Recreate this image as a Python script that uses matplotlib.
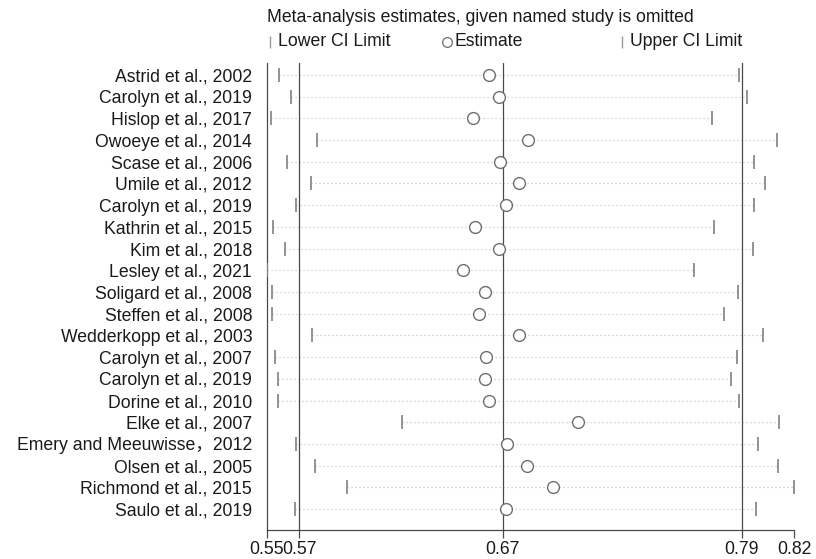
import numpy as np
import matplotlib
matplotlib.use('Agg')
import matplotlib.pyplot as plt
from matplotlib.lines import Line2D

plt.rcParams['font.family'] = ['Liberation Sans', 'Noto Sans CJK SC']

# ================================
# DATA
# ================================

studies = [
    "Astrid et al., 2002",
    "Carolyn et al., 2019",
    "Hislop et al., 2017",
    "Owoeye et al., 2014",
    "Scase et al., 2006",
    "Umile et al., 2012",
    "Carolyn et al., 2019",
    "Kathrin et al., 2015",
    "Kim et al., 2018",
    "Lesley et al., 2021",
    "Soligard et al., 2008",
    "Steffen et al., 2008",
    "Wedderkopp et al., 2003",
    "Carolyn et al., 2007",
    "Carolyn et al., 2019",
    "Dorine et al., 2010",
    "Elke et al., 2007",
    "Emery and Meeuwisse\uff0c2012",
    "Olsen et al., 2005",
    "Richmond et al., 2015",
    "Saulo et al., 2019",
]

lower = [0.5574, 0.5632, 0.5530, 0.5769, 0.5615, 0.5736, 0.5658, 0.5543,
         0.5605, 0.5510, 0.5538, 0.5538, 0.5743, 0.5554, 0.5567, 0.5569,
         0.6201, 0.5658, 0.5758, 0.5921, 0.5654]

estimate = [0.6650, 0.6701, 0.6564, 0.6846, 0.6706, 0.6802, 0.6735, 0.6578,
            0.6698, 0.6513, 0.6626, 0.6597, 0.6800, 0.6631, 0.6629, 0.6648,
            0.7102, 0.6742, 0.6843, 0.6974, 0.6734]

upper = [0.7928, 0.7968, 0.7790, 0.8121, 0.8007, 0.8063, 0.8005, 0.7799,
         0.7998, 0.7698, 0.7922, 0.7850, 0.8051, 0.7916, 0.7887, 0.7928,
         0.8135, 0.8024, 0.8126, 0.8210, 0.8014]

# pooled estimate with all studies
pooled_lower = 0.5676
pooled_est = 0.6718
pooled_upper = 0.7942

# ================================
# PLOT
# ================================

W, H = 816, 559
fig = plt.figure(figsize=(W / 100, H / 100), dpi=100)
ax = fig.add_axes([266.8 / W, 1 - 529.5 / H, (794 - 266.8) / W, (529.5 - 63) / H])

y = np.arange(1, len(studies) + 1)
lo = np.array(lower)
est = np.array(estimate)
hi = np.array(upper)

# dotted CI spans
for yi, a, b in zip(y, lo, hi):
    ax.plot([a, b], [yi, yi], color='#c4c4c4', lw=0.9,
            linestyle=(0, (1, 2.2)), zorder=1)

ax.plot(lo, y, linestyle='none', marker='|', ms=9.5, mew=1.3,
        color='#8a8a8a', zorder=3)
ax.plot(hi, y, linestyle='none', marker='|', ms=9.5, mew=1.3,
        color='#8a8a8a', zorder=3)
ax.plot(est, y, linestyle='none', marker='o', ms=8.5, mfc='white',
        mec='#6e6e6e', mew=1.0, zorder=4)

for v in (pooled_lower, pooled_est, pooled_upper):
    ax.axvline(v, color='#4a4a4a', lw=0.9, zorder=2)

xmin = lo.min()
xmax = hi.max()
ax.set_xlim(xmin, xmax)
ax.set_ylim(21.94, 0.45)

xt = [xmin, pooled_lower, pooled_est, pooled_upper, xmax]
ax.set_xticks(xt)
ax.set_xticklabels([f"{v:.2f}" for v in xt])
ax.set_yticks(y)
ax.set_yticklabels(studies)

ax.tick_params(axis='y', length=0, pad=10.5, labelsize=12.7, colors='#1a1a1a')
ax.tick_params(axis='x', length=6, width=0.9, color='#4a4a4a', pad=2,
               labelsize=12.7, labelcolor='#1a1a1a')

for s in ('top', 'right'):
    ax.spines[s].set_visible(False)
for s in ('left', 'bottom'):
    ax.spines[s].set_color('#4a4a4a')
    ax.spines[s].set_linewidth(0.9)

# ================================
# LEGEND (drawn by hand)
# ================================

fig.text(267 / W, 1 - 17 / H, "Meta-analysis estimates, given named study is omitted",
         fontsize=12.7, va='center', ha='left', color='#1a1a1a')

ly = 1 - 42 / H
items = [(270, '|', "Lower CI Limit"), (447, 'o', "Estimate"), (622, '|', "Upper CI Limit")]
for px, mk, txt in items:
    if mk == 'o':
        fig.add_artist(Line2D([px / W], [ly], marker='o', ms=7, mfc='white',
                              mec='#6e6e6e', mew=0.9, transform=fig.transFigure))
    else:
        fig.add_artist(Line2D([px / W], [ly], marker='|', ms=9, mew=1.0,
                              color='#9a9a9a', transform=fig.transFigure))
    fig.text((px + 8) / W, ly, txt, fontsize=12.7, va='center', ha='left',
             color='#1a1a1a')

fig.savefig("out.png", dpi=100)
plt.close(fig)
